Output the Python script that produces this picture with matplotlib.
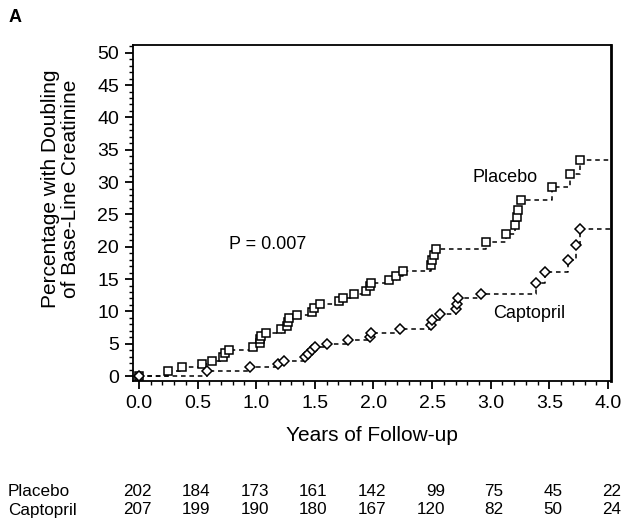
import matplotlib
matplotlib.use("Agg")
import matplotlib.pyplot as plt
from matplotlib.ticker import MultipleLocator
import matplotlib.transforms as mtransforms

plt.rcParams['font.family'] = ['Liberation Sans', 'DejaVu Sans']

# Kaplan-Meier event times (years) and cumulative percentages
placebo_t = [0.0, 0.25, 0.37, 0.54, 0.62, 0.72, 0.73, 0.77, 0.975, 1.03, 1.03, 1.04, 1.08,
             1.21, 1.26, 1.27, 1.28, 1.345, 1.48, 1.49, 1.54, 1.71, 1.74, 1.83, 1.94, 1.97,
             1.98, 2.13, 2.19, 2.25, 2.49, 2.50, 2.52, 2.53, 2.96, 3.13, 3.21, 3.22, 3.235,
             3.26, 3.52, 3.68, 3.76]
placebo_v = [0.0, 0.7, 1.4, 1.8, 2.3, 2.9, 3.5, 4.1, 4.5, 5.1, 5.8, 6.2, 6.7,
             7.2, 7.8, 8.3, 8.9, 9.4, 9.9, 10.5, 11.1, 11.6, 12.1, 12.7, 13.2, 13.9,
             14.4, 14.9, 15.5, 16.3, 17.2, 17.9, 18.7, 19.7, 20.8, 22.0, 23.3, 24.6, 25.7,
             27.3, 29.2, 31.2, 33.4]
captopril_t = [0.0, 0.58, 0.95, 1.19, 1.24, 1.42, 1.44, 1.48, 1.50, 1.60, 1.78, 1.97, 1.98,
               2.23, 2.49, 2.50, 2.57, 2.70, 2.715, 2.72, 2.92, 3.39, 3.46, 3.66, 3.73, 3.76]
captopril_v = [0.0, 0.7, 1.4, 1.8, 2.3, 2.9, 3.4, 4.0, 4.5, 5.0, 5.6, 6.1, 6.7,
               7.2, 7.9, 8.7, 9.6, 10.3, 11.2, 12.1, 12.7, 14.4, 16.1, 18.0, 20.2, 22.8]
end_t = 4.03

risk_years = [0.0, 0.5, 1.0, 1.5, 2.0, 2.5, 3.0, 3.5, 4.0]
placebo_risk = [202, 184, 173, 161, 142, 99, 75, 45, 22]
captopril_risk = [207, 199, 190, 180, 167, 120, 82, 50, 24]

fig = plt.figure(figsize=(6.25, 5.19), dpi=100)
ax = fig.add_axes([0.2128, 0.2659, 0.7648, 0.6474])

for t, v, m, ms in [(placebo_t, placebo_v, 's', 6), (captopril_t, captopril_v, 'D', 5.5)]:
    ax.plot(list(t) + [end_t], list(v) + [v[-1]], drawstyle='steps-post', ls=(0, (3, 2.5)),
            color='black', lw=1.1)
    ax.plot(t, v, ls='none', marker=m, ms=ms, mfc='white', mec='black', mew=1.1)

ax.set_xlim(-0.051, 4.026)
ax.set_ylim(-0.77, 51.2)
ax.xaxis.set_major_locator(MultipleLocator(0.5))
ax.xaxis.set_minor_locator(MultipleLocator(0.1))
ax.yaxis.set_major_locator(MultipleLocator(5))
ax.yaxis.set_minor_locator(MultipleLocator(1))
ax.xaxis.set_major_formatter(plt.FuncFormatter(lambda x, p: f"{x:.1f}"))
ax.tick_params(which='major', direction='out', length=6, width=1.3, labelsize=14, pad=4)
ax.tick_params(which='minor', direction='out', length=3, width=1.0)
for s in ax.spines.values():
    s.set_linewidth(1.3)
ax.spines['right'].set_linewidth(2.0)

ax.set_xlabel('Years of Follow-up', fontsize=15, labelpad=10)
ax.set_ylabel('Percentage with Doubling\nof Base-Line Creatinine', fontsize=15,
              linespacing=1.1)
ax.yaxis.set_label_coords(-0.11, 0.571)

ax.text(3.12, 30.7, 'Placebo', fontsize=13, ha='center', va='center')
ax.text(3.33, 9.6, 'Captopril', fontsize=13, ha='center', va='center')
ax.text(1.1, 20.3, 'P = 0.007', fontsize=13, ha='center', va='center')
fig.text(0.013, 0.967, 'A', fontsize=13, fontweight='bold', ha='left', va='center')

trans = mtransforms.blended_transform_factory(ax.transData, fig.transFigure)
y1 = 1 - 492 / 519
y2 = 1 - 510 / 519
fig.text(8 / 625, y1, 'Placebo', fontsize=12.3, ha='left', va='center')
fig.text(8 / 625, y2, 'Captopril', fontsize=12.3, ha='left', va='center')
for x, a, b in zip(risk_years, placebo_risk, captopril_risk):
    ax.text(x + 0.11, y1, str(a), transform=trans, fontsize=12.3, ha='right', va='center')
    ax.text(x + 0.11, y2, str(b), transform=trans, fontsize=12.3, ha='right', va='center')

fig.savefig('out.png', dpi=100)
